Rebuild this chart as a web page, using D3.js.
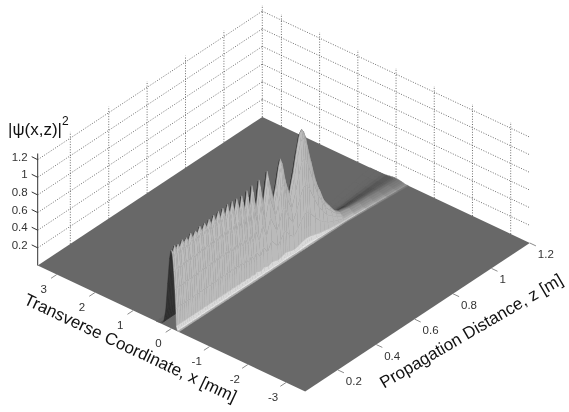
<!DOCTYPE html>
<meta charset="utf-8">
<style>
body { margin: 0; background: #fff; }
svg { display: block; filter: blur(0.45px); font-family: "Liberation Sans", Arial, sans-serif; }
.grid { fill: none; stroke: #4a4a4a; stroke-width: 0.8px; stroke-dasharray: 1,1.6; }
.tick-label { font-size: 11.5px; fill: #333; }
.axis-title { font-size: 17px; fill: #111; }
.tick { stroke: #8a8a8a; stroke-width: 1px; }
</style>
<body>
<svg width="569" height="412"></svg>
<script src="https://d3js.org/d3.v7.min.js"></script>
<script>
var xTicks = [3, 2, 1, 0, -1, -2, -3];
var zTicks = [0.2, 0.4, 0.6, 0.8, 1, 1.2];
var hTicks = [0.2, 0.4, 0.6, 0.8, 1, 1.2];

var ridgeZ = [0.03, 0.038, 0.046, 0.054, 0.064, 0.074, 0.086, 0.096, 0.108, 0.118, 0.130, 0.142, 0.154, 0.166, 0.178, 0.19,
  0.202, 0.214, 0.226, 0.238, 0.25, 0.262, 0.274, 0.286, 0.298, 0.31, 0.322, 0.334, 0.346, 0.358, 0.37, 0.386, 0.396, 0.412,
  0.423, 0.438, 0.449, 0.47, 0.486, 0.507, 0.528, 0.56, 0.575, 0.588, 0.597, 0.606, 0.62, 0.644, 0.665, 0.681, 0.697, 0.708,
  0.718, 0.729, 0.755, 0.78, 0.80, 0.82, 0.85, 0.875, 0.9, 0.95, 1.0, 1.05, 1.1, 1.15, 1.2];
var ridgePeak = [0.89, 0.86, 0.92, 0.87, 0.91, 0.86, 0.93, 0.88, 0.92, 0.87, 0.94, 0.87, 0.93, 0.89, 0.95, 0.88,
  0.95, 0.89, 0.96, 0.89, 0.97, 0.89, 0.98, 0.89, 0.98, 0.88, 0.99, 0.87, 0.99, 0.86, 0.985, 0.84, 0.98, 0.80,
  1.0, 0.775, 1.02, 0.72, 1.03, 0.72, 1.07, 0.70, 0.85, 1.03, 1.11, 1.05, 0.85, 0.65, 0.87, 1.08, 1.25, 1.28,
  1.24, 1.16, 0.86, 0.6, 0.47, 0.33, 0.22, 0.13, 0.08, 0.055, 0.045, 0.04, 0.032, 0.026, 0.02];

// beam widening
var widthZ = [0.03, 0.7, 0.9, 1.2];
var widthFactor = [1, 1.05, 1.1, 1.7];

// cross section of the beam
var profileX = [0.4, 0.3, 0.24, 0.2, 0.15, 0.1, 0.05, 0.02, 0, -0.03, -0.06, -0.09, -0.115, -0.13, -0.15, -0.17, -0.19];
var profileLevel = [0, 0.005, 0.02, 0.05, 0.2, 0.55, 0.88, 0.98, 1, 0.93, 0.75, 0.52, 0.28, 0.06, 0.022, 0.006, 0];
// bright strip along the foot of the beam, one entry per cell of the cross section
var profileGlow = [0, 0, 0, 0, 0, 0, 0, 0, 0, 0, 0, 0, 0, 0.7, 1, 0.4];

var svg = d3.select("svg");

// floor corners and wall height in page pixels
var corner = {x: 37.7, y: 265.5};
var xDx = d3.scaleLinear().domain([3.5, -3.5]).range([0, 267.5]);
var xDy = d3.scaleLinear().domain([3.5, -3.5]).range([0, 126]);
var zDx = d3.scaleLinear().domain([0.03, 1.2]).range([0, 224.6]);
var zDy = d3.scaleLinear().domain([0.03, 1.2]).range([0, -148.5]);
var hDy = d3.scaleLinear().domain([0, 1.27]).range([0, -112]);
var widen = d3.scaleLinear().domain(widthZ).range(widthFactor);

function project(x, z, h) {
  return [corner.x + xDx(x) + zDx(z), corner.y + xDy(x) + zDy(z) + hDy(h || 0)];
}
function pathOf(pts) { return "M" + pts.map(function(p) { return p[0].toFixed(2) + "," + p[1].toFixed(2); }).join("L") + "Z"; }
function segment(g, cls, a, b) {
  return g.append("line").attr("class", cls)
    .attr("x1", a[0]).attr("y1", a[1]).attr("x2", b[0]).attr("y2", b[1]);
}

var xMin = -3.5, xMax = 3.5, zMin = 0.03, zMax = 1.2, hMax = 1.27;

// walls
var grid = svg.append("g");
zTicks.forEach(function(z) {
  segment(grid, "grid", project(xMax, z, 0), project(xMax, z, hMax));
});
xTicks.forEach(function(x) {
  segment(grid, "grid", project(x, zMax, 0), project(x, zMax, hMax));
});
hTicks.forEach(function(h) {
  segment(grid, "grid", project(xMax, zMin, h), project(xMax, zMax, h));
  segment(grid, "grid", project(xMax, zMax, h), project(xMin, zMax, h));
});

// floor
svg.append("path")
  .attr("d", pathOf([project(xMax, zMin), project(xMax, zMax), project(xMin, zMax), project(xMin, zMin)]))
  .attr("fill", "#686868");

// shade from the slope across the beam (positive: faces the viewer)
var shadeFront = d3.scaleLinear().domain([0, 0.1, 0.3, 0.8, 30]).range([104, 122, 150, 186, 188]).clamp(true);
var shadeBack = d3.scaleLinear().domain([0, 0.1, 0.4, 2, 30]).range([104, 90, 62, 46, 52]).clamp(true);
var glowAmount = d3.scaleLinear().domain([0.02, 0.06]).range([0.25, 0.85]).clamp(true);

var cells = [];
for (var i = ridgeZ.length - 2; i >= 0; i--) {
  for (var j = 0; j < profileX.length - 1; j++) {
    var w0 = widen(ridgeZ[i]), w1 = widen(ridgeZ[i + 1]);
    var a = [profileX[j] * w0, ridgeZ[i], ridgePeak[i] * profileLevel[j]];
    var b = [profileX[j + 1] * w0, ridgeZ[i], ridgePeak[i] * profileLevel[j + 1]];
    var c = [profileX[j + 1] * w1, ridgeZ[i + 1], ridgePeak[i + 1] * profileLevel[j + 1]];
    var d = [profileX[j] * w1, ridgeZ[i + 1], ridgePeak[i + 1] * profileLevel[j]];
    var slopeX = ((a[2] - b[2]) / (a[0] - b[0]) + (d[2] - c[2]) / (d[0] - c[0])) / 2;
    var slopeZ = ((d[2] - a[2]) + (c[2] - b[2])) / 2 / (ridgeZ[i + 1] - ridgeZ[i]);
    cells.push({pts: [a, b, c, d], slopeX: slopeX, slopeZ: slopeZ, glow: profileGlow[j] * glowAmount(ridgePeak[i]), level: profileLevel[j]});
  }
}

svg.append("g").selectAll("path")
  .data(cells)
  .join("path")
    .attr("d", function(d) { return pathOf(d.pts.map(function(p) { return project(p[0], p[1], p[2]); })); })
    .each(function(d) {
      var v = d.slopeX >= 0 ? shadeFront(d.slopeX) : shadeBack(-d.slopeX);
      if (d.slopeX >= 0) {
        v += Math.max(-12, Math.min(4, d.slopeZ)) * d.level * d.level * d.level;
        v += d.glow * (238 - v);
      }
      var col = d3.rgb(v, v, v).formatHex();
      d3.select(this).attr("fill", col).attr("stroke", col).attr("stroke-width", 0.4);
    });

// height axis on the left corner
segment(svg, "axis-line", project(xMax, zMin, 0), project(xMax, zMin, hMax))
  .attr("stroke", "#333").attr("stroke-width", 1);
hTicks.forEach(function(h) {
  var p = project(xMax, zMin, h);
  svg.append("line").attr("stroke", "#333")
    .attr("x1", p[0]).attr("y1", p[1]).attr("x2", p[0] - 6).attr("y2", p[1] - 3);
  svg.append("text").attr("class", "tick-label")
    .attr("x", p[0] - 10).attr("y", p[1] + 1).attr("text-anchor", "end")
    .text(d3.format("~g")(h));
});

// floor ticks and labels
xTicks.forEach(function(x) {
  var p = project(x, zMin), q = project(x, zMin - 0.03);
  segment(svg, "tick", p, q);
  svg.append("text").attr("class", "tick-label")
    .attr("x", p[0] - 13).attr("y", p[1] + 18).attr("text-anchor", "middle")
    .text(x);
});
zTicks.forEach(function(z) {
  var p = project(xMin, z), q = project(xMin - 0.16, z);
  segment(svg, "tick", p, q);
  svg.append("text").attr("class", "tick-label")
    .attr("x", p[0] + 8).attr("y", p[1] + 15)
    .text(d3.format("~g")(z));
});

// titles
svg.append("text").attr("class", "axis-title")
  .attr("transform", "translate(128,353) rotate(25.2)")
  .attr("text-anchor", "middle")
  .text("Transverse Coordinate, x [mm]");
svg.append("text").attr("class", "axis-title")
  .attr("transform", "translate(474,336) rotate(-30.4)")
  .attr("text-anchor", "middle")
  .text("Propagation Distance, z [m]");
var ylab = svg.append("text").attr("class", "axis-title").attr("x", 8).attr("y", 135);
ylab.append("tspan").text("|\u03C8(x,z)|");
ylab.append("tspan").attr("dy", -10).attr("font-size", 12).text("2");
</script>
</body>
